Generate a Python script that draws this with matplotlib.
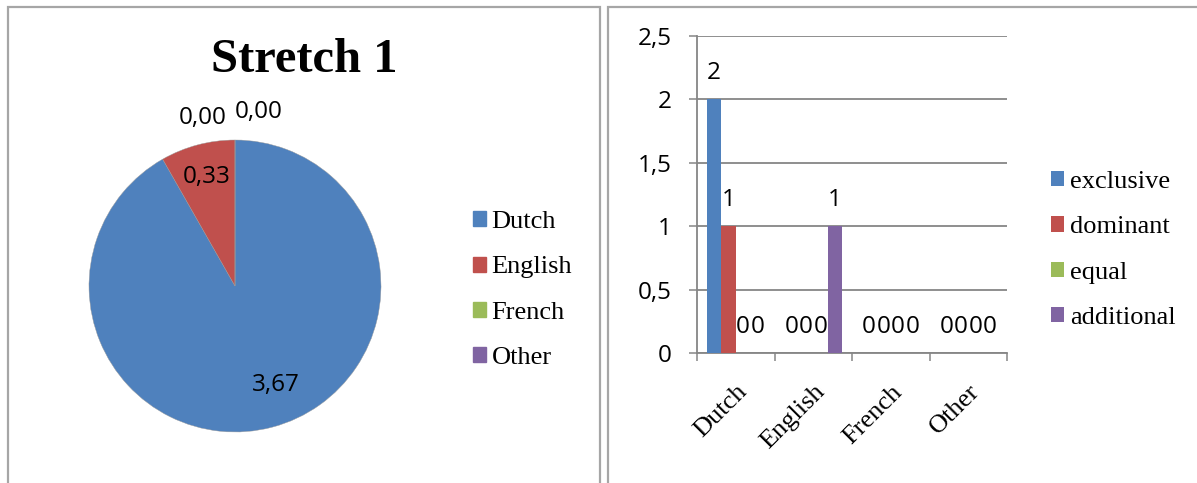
import matplotlib.pyplot as plt
from matplotlib.patches import Rectangle
from matplotlib.ticker import FixedLocator
import numpy as np

# languages and the average score per language (pie)
languages = ["Dutch", "English", "French", "Other"]
pie_values = [3.67, 0.33, 0.00, 0.00]

# usage type counts per language (bars)
usage_types = ["exclusive", "dominant", "equal", "additional"]
exclusive = [2, 0, 0, 0]
dominant = [1, 0, 0, 0]
equal = [0, 0, 0, 0]
additional = [0, 1, 0, 0]
y_ticks = [0, 0.5, 1, 1.5, 2, 2.5]

colors = ["#4F81BD", "#C0504D", "#9BBB59", "#8064A2"]
serif = ["Liberation Serif", "DejaVu Serif"]
sans = ["Open Sans", "DejaVu Sans"]
grey = "#868686"
num_size = 17.5
leg_size = 19


def comma(v, fmt):
    return format(v, fmt).replace(".", ",")


W, H = 1197, 483
fig = plt.figure(figsize=(W / 100, H / 100), dpi=100)

# panel frames
for x0, x1 in [(8, 600), (608, 1210)]:
    fig.patches.append(Rectangle((x0 / W, -0.1), (x1 - x0) / W, (H - 7) / H + 0.1,
                                 transform=fig.transFigure, fill=False,
                                 edgecolor="#A6A6A6", linewidth=1.6))

# ---- pie ----
fig.text(304 / W, 1 - 72 / H, "Stretch 1", ha="center", va="baseline",
         fontsize=35, fontweight="bold", family=serif)

ax1 = fig.add_axes([89 / W, 1 - 432 / H, 292 / W, 292 / H])
wedges, _ = ax1.pie(pie_values, colors=colors, startangle=90, counterclock=False,
                    wedgeprops=dict(edgecolor="#9a9a9a", linewidth=0.3))
ax1.set_xlim(-1, 1)
ax1.set_ylim(-1, 1)
ax1.set_aspect("equal")

# zero-size wedges get their labels outside, shifted apart
zero_shift = {2: (-0.22, 1.15), 3: (0.16, 1.19)}
for i, (w, v) in enumerate(zip(wedges, pie_values)):
    if v == 0:
        x, y = zero_shift[i]
    else:
        mid = np.deg2rad((w.theta1 + w.theta2) / 2)
        r = 0.7 if i == 0 else 0.77
        x, y = r * np.cos(mid), r * np.sin(mid)
        if i == 0:
            x += 0.1
    ax1.text(x, y, comma(v, ".2f"), ha="center", va="center",
             fontsize=num_size, family=sans, clip_on=False)

fig.legend(handles=[Rectangle((0, 0), 1, 1, color=c) for c in colors],
           labels=languages, loc="center left", bbox_to_anchor=(460 / W, 1 - 290 / H),
           frameon=False, borderpad=0, handlelength=0.5, handleheight=0.5,
           handletextpad=0.2, labelspacing=0.88, prop={"family": serif, "size": leg_size})

# ---- grouped bars ----
ax2 = fig.add_axes([697 / W, 1 - 353 / H, 310 / W, 317 / H])
x = np.arange(len(languages))
bw = 0.187
series = [exclusive, dominant, equal, additional]
for k, (vals, c) in enumerate(zip(series, colors)):
    bars = ax2.bar(x + (k - 1.5) * bw, vals, bw, color=c, label=usage_types[k], zorder=3)
    for rect, v in zip(bars, vals):
        ax2.annotate(str(v), (rect.get_x() + rect.get_width() / 2, rect.get_height()),
                     xytext=(0, 19), textcoords="offset points", ha="center",
                     va="center", fontsize=num_size, family=sans, zorder=4)

ax2.set_xlim(-0.5, len(languages) - 0.5)
ax2.set_ylim(0, 2.5)
ax2.set_yticks(y_ticks)
ax2.set_yticklabels([comma(t, "g") for t in y_ticks], family=sans, fontsize=num_size)
ax2.yaxis.grid(True, color=grey, linewidth=1.3, zorder=0)
ax2.tick_params(axis="y", length=6, width=1.1, color=grey, pad=12)

ax2.xaxis.set_major_locator(FixedLocator(np.arange(len(languages) + 1) - 0.5))
ax2.xaxis.set_minor_locator(FixedLocator(x))
ax2.set_xticklabels([], minor=False)
ax2.set_xticklabels(languages, minor=True, rotation=45, ha="right",
                    rotation_mode="anchor", family=serif, fontsize=leg_size)
ax2.tick_params(axis="x", which="major", length=6, width=1.1, color=grey)
ax2.tick_params(axis="x", which="minor", length=0, pad=20)

for s in ["top", "right"]:
    ax2.spines[s].set_visible(False)
for s in ["left", "bottom"]:
    ax2.spines[s].set_color(grey)
    ax2.spines[s].set_linewidth(1.3)

h, l = ax2.get_legend_handles_labels()
fig.legend(h, l, loc="center left", bbox_to_anchor=(1038 / W, 1 - 250 / H),
           frameon=False, borderpad=0, handlelength=0.5, handleheight=0.5,
           handletextpad=0.2, labelspacing=0.88, prop={"family": serif, "size": leg_size})

fig.savefig("out.png", dpi=100)
